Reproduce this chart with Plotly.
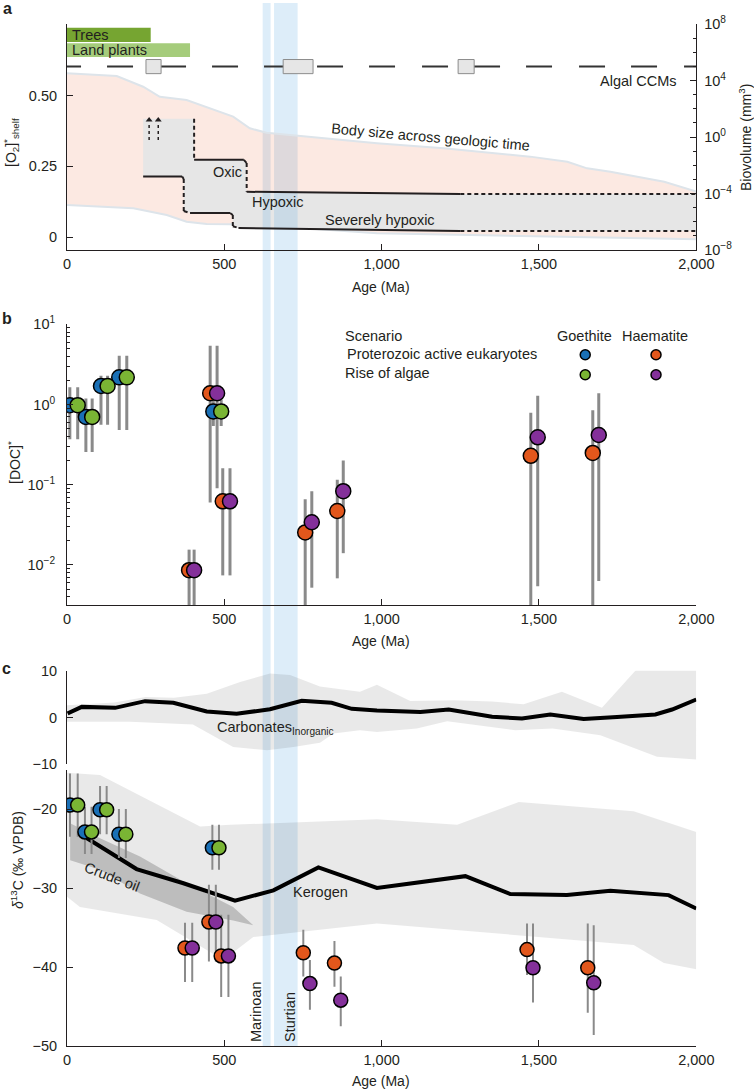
import numpy as np
import plotly.graph_objects as go

W, H = 754, 1090

# ---------------- shared data ----------------
age_ticks = [0, 500, 1000, 1500, 2000]
age_tick_text = ["0", "500", "1,000", "1,500", "2,000"]

glacial_names = ["Marinoan", "Sturtian"]
glacial_start = [622, 658]
glacial_end = [647, 733]

# ---------------- panel a data ----------------
plant_names = ["Trees", "Land plants"]
plant_end_age = [266, 391]

ccm_box_start = [251, 687, 1243]
ccm_box_end = [299, 782, 1294]

body_upper_age = [0, 158, 242, 295, 380, 528, 581, 634, 985, 1197, 1472, 1590, 1653, 1727, 1898, 2000]
body_upper_log = [4.51, 4.32, 3.56, 2.85, 2.62, 1.44, 0.62, 0.30, -0.45, -0.80, -1.39, -1.75, -2.22, -2.46, -3.17, -3.87]
body_lower_age = [0, 211, 317, 380, 444, 591, 985, 1590, 2000]
body_lower_log = [-4.81, -5.05, -5.52, -6.0, -6.16, -6.2, -6.82, -7.06, -7.24]

oxic_age = [242, 404, 404, 562, 571, 571, 1250, 2000]
oxic_o2 = [0.418, 0.418, 0.273, 0.273, 0.262, 0.160, 0.152, 0.152]
oxic_style = ["none", "dash", "solid", "dash", "dash", "solid", "dash"]

hyp_age = [242, 366, 371, 371, 391, 518, 527, 527, 545, 1250, 2000]
hyp_o2 = [0.214, 0.214, 0.205, 0.092, 0.085, 0.085, 0.078, 0.038, 0.032, 0.021, 0.021]
hyp_style = ["solid", "dash", "dash", "dash", "solid", "dash", "dash", "dash", "solid", "dash"]

arrow_age = [261, 290]
arrow_o2_from, arrow_o2_to = 0.343, 0.414

# ---------------- panel b data ----------------
doc_gp_age = [9, 60, 108, 166, 465]          # Goethite, Proterozoic active eukaryotes
doc_gp = [0.98, 0.70, 1.70, 2.18, 0.82]
doc_gp_lo = [0.37, 0.256, 0.56, 0.48, 0.54]
doc_gp_hi = [1.64, 1.19, 2.29, 4.05, 1.15]

doc_ga_age = [34, 80, 129, 190, 490]         # Goethite, Rise of algae
doc_ga = [0.98, 0.70, 1.70, 2.18, 0.82]
doc_ga_lo = [0.37, 0.256, 0.56, 0.48, 0.54]
doc_ga_hi = [1.64, 1.19, 2.29, 4.05, 1.15]

doc_hp_age = [388, 455, 495, 757, 859, 1474, 1671]   # Haematite, Proterozoic active eukaryotes
doc_hp = [0.0086, 1.38, 0.062, 0.0254, 0.047, 0.229, 0.249]
doc_hp_lo = [0.001, 0.06, 0.0074, 0.001, 0.0068, 0.001, 0.001]
doc_hp_hi = [0.0155, 5.4, 0.16, 0.066, 0.115, 0.79, 0.85]

doc_ha_age = [404, 477, 518, 778, 878, 1496, 1690]   # Haematite, Rise of algae
doc_ha = [0.0086, 1.38, 0.062, 0.034, 0.083, 0.39, 0.417]
doc_ha_lo = [0.001, 0.09, 0.0074, 0.0052, 0.014, 0.0054, 0.0063]
doc_ha_hi = [0.0155, 5.4, 0.16, 0.083, 0.20, 1.29, 1.38]

# ---------------- panel c data ----------------
carb_age = [2, 47, 153, 248, 338, 444, 539, 645, 746, 841, 905, 985, 1123, 1213, 1351, 1446, 1536, 1642, 1748, 1870, 1923, 2000]
carb_d13c = [0.86, 2.27, 2.06, 3.49, 3.13, 1.28, 0.78, 1.78, 3.56, 3.13, 1.85, 1.5, 1.2, 1.71, 0.14, -0.21, 0.64, -0.3, 0.13, 0.64, 1.71, 3.85]
carb_hi_age = [0, 150, 250, 340, 444, 550, 645, 709, 804, 931, 985, 1091, 1229, 1351, 1451, 1573, 1700, 1833, 2000]
carb_hi = [2.6, 3.2, 4.4, 4.2, 5.1, 7.6, 9.4, 9.1, 6.6, 5.5, 7.0, 3.5, 3.7, 3.4, 2.85, 5.5, 2.06, 12.0, 12.0]
carb_lo_age = [0, 200, 400, 444, 528, 636, 720, 804, 847, 931, 985, 1112, 1208, 1425, 1543, 1695, 1875, 2000]
carb_lo = [-0.9, -0.9, -1.5, -3.1, -6.3, -7.0, -6.3, -5.4, -3.4, -2.7, -3.1, -2.36, -0.8, -2.7, -2.36, -3.8, -8.4, -9.0]

ker_age = [47, 221, 370, 534, 656, 799, 985, 1266, 1409, 1589, 1727, 1912, 2000]
ker_d13c = [-23.3, -27.6, -29.4, -31.6, -30.3, -27.4, -30.0, -28.5, -30.76, -30.9, -30.34, -30.9, -32.6]
ker_hi_age = [0, 105, 423, 518, 985, 1240, 1436, 1801, 2000]
ker_hi = [-15.4, -15.7, -22.2, -22.0, -21.3, -22.0, -19.1, -20.3, -22.9]
ker_lo_age = [0, 41, 285, 497, 592, 985, 1801, 1897, 2000]
ker_lo = [-31.1, -32.4, -34.05, -39.1, -36.2, -34.5, -37.2, -39.5, -40.3]

oil_hi_age = [10, 105, 232, 380, 528, 592]
oil_hi = [-21.8, -23.7, -26.0, -29.4, -32.4, -34.7]
oil_lo_age = [592, 528, 380, 232, 105, 10]
oil_lo = [-34.7, -34.1, -33.0, -30.7, -27.7, -26.5]

d13_gp_age = [9.5, 57, 105, 165, 462]
d13_gp = [-19.5, -22.9, -20.1, -23.2, -24.9]
d13_gp_lo = [-23.5, -25.7, -23.2, -26.2, -27.7]
d13_gp_hi = [-15.5, -19.7, -17.1, -20.0, -22.0]

d13_ga_age = [34, 78, 126, 187, 483]
d13_ga = [-19.5, -22.9, -20.1, -23.2, -24.9]
d13_ga_lo = [-23.5, -25.7, -23.2, -26.2, -27.7]
d13_ga_hi = [-15.5, -19.7, -17.1, -20.0, -22.0]

d13_hp_age = [375, 451, 490, 751, 850, 1462, 1655]
d13_hp = [-37.6, -34.3, -38.6, -38.2, -39.5, -37.8, -40.1]
d13_hp_lo = [-41.9, -39.3, -43.8, -41.2, -42.5, -41.0, -45.8]
d13_hp_hi = [-34.4, -29.6, -33.4, -35.3, -36.7, -34.5, -34.5]

d13_ha_age = [398, 473, 513, 772, 870, 1481, 1674]
d13_ha = [-37.6, -34.3, -38.6, -42.1, -44.2, -40.1, -42.0]
d13_ha_lo = [-41.9, -39.3, -43.8, -45.4, -47.5, -44.5, -48.6]
d13_ha_hi = [-34.4, -29.6, -33.4, -39.1, -41.2, -34.5, -34.7]

# ---------------- styles ----------------
FONT = "Liberation Sans, Arial, Helvetica, sans-serif"
INK = "#231f20"
C_BLUE, C_GREEN, C_ORANGE, C_PURPLE = "#1a70b6", "#7ab534", "#e2571c", "#84309a"
BAND = "rgba(120,185,230,0.25)"
GREY_FILL = "rgba(0,0,0,0.085)"
ERR = "#8a8a8a"

X0, X1 = 67 / W, 696.3 / W


def py(p):
    return 1 - p / H


fig = go.Figure()

# ---------------- panel a ----------------
fig.add_trace(go.Scatter(
    x=body_upper_age + body_lower_age[::-1],
    y=list(10.0 ** np.array(body_upper_log + body_lower_log[::-1])),
    fill="toself", fillcolor="rgba(235,100,50,0.14)", mode="lines",
    line=dict(color="#dde4ea", width=2), xaxis="x", yaxis="y", hoverinfo="skip"))

fig.add_trace(go.Scatter(
    x=oxic_age + hyp_age[::-1], y=oxic_o2 + hyp_o2[::-1],
    fill="toself", fillcolor="#e6e6e6", mode="lines", line=dict(width=0),
    xaxis="x", yaxis="y2", hoverinfo="skip"))
for s, e in zip(glacial_start, glacial_end):
    xs = [s, e]
    up = list(np.interp(xs, oxic_age, oxic_o2))
    lo = list(np.interp(xs, hyp_age, hyp_o2))
    fig.add_trace(go.Scatter(x=xs + xs[::-1], y=up + lo[::-1], fill="toself", fillcolor=BAND,
                             mode="lines", line=dict(width=0), xaxis="x", yaxis="y2", hoverinfo="skip"))


def seg_traces(ages, vals, styles):
    out = {"solid": ([], []), "dash": ([], [])}
    for i, st in enumerate(styles):
        if st == "none":
            continue
        out[st][0].extend([ages[i], ages[i + 1], None])
        out[st][1].extend([vals[i], vals[i + 1], None])
    for st, (xx, yy) in out.items():
        if xx:
            fig.add_trace(go.Scatter(x=xx, y=yy, mode="lines",
                                     line=dict(color=INK, width=2, dash="solid" if st == "solid" else "4px,3px"),
                                     xaxis="x", yaxis="y2", hoverinfo="skip"))


seg_traces(oxic_age, oxic_o2, oxic_style)
seg_traces(hyp_age, hyp_o2, hyp_style)

ax_x, ax_y = [], []
for a in arrow_age:
    ax_x += [a, a, None]
    ax_y += [arrow_o2_from, arrow_o2_to - 0.012, None]
fig.add_trace(go.Scatter(x=ax_x, y=ax_y, mode="lines", line=dict(color=INK, width=1.5, dash="3px,3px"),
                         xaxis="x", yaxis="y2", hoverinfo="skip"))
fig.add_trace(go.Scatter(x=arrow_age, y=[arrow_o2_to] * len(arrow_age), mode="markers",
                         marker=dict(symbol="triangle-up", size=6, color=INK),
                         xaxis="x", yaxis="y2", hoverinfo="skip"))

CCM_Y = 0.603
BOX_HALF = 0.025
fig.add_trace(go.Scatter(x=[-38, 2000], y=[CCM_Y, CCM_Y], mode="lines",
                         line=dict(color="#333333", width=2,
                                   dash="26px,26px,26px,27px,26px,26px,26px,26px,26px,27px"),
                         xaxis="x", yaxis="y2", hoverinfo="skip"))
for s, e in zip(ccm_box_start, ccm_box_end):
    fig.add_trace(go.Scatter(x=[s, e, e, s, s], y=[CCM_Y - BOX_HALF, CCM_Y - BOX_HALF, CCM_Y + BOX_HALF, CCM_Y + BOX_HALF, CCM_Y - BOX_HALF],
                             fill="toself", fillcolor="#e6e6e6", mode="lines",
                             line=dict(color="#8c8c8c", width=1), xaxis="x", yaxis="y2", hoverinfo="skip"))

plant_rows = [(0.690, 0.740, "#76a531"), (0.637, 0.686, "#a5cc7b")]
for name, end, (lo, hi, col) in zip(plant_names, plant_end_age, plant_rows):
    fig.add_trace(go.Scatter(x=[0, end, end, 0, 0], y=[lo, lo, hi, hi, lo], fill="toself", fillcolor=col,
                             mode="lines", line=dict(width=0), xaxis="x", yaxis="y2", hoverinfo="skip"))

# ---------------- panel b ----------------
def err_segments(xs, lo, hi):
    xx, yy = [], []
    for a, l, h in zip(xs, lo, hi):
        xx += [a, a, None]
        yy += [l, h, None]
    return xx, yy


for xs, lo, hi in [(doc_gp_age, doc_gp_lo, doc_gp_hi), (doc_ga_age, doc_ga_lo, doc_ga_hi),
                   (doc_hp_age, doc_hp_lo, doc_hp_hi), (doc_ha_age, doc_ha_lo, doc_ha_hi)]:
    xx, yy = err_segments(xs, lo, hi)
    fig.add_trace(go.Scatter(x=xx, y=yy, mode="lines", line=dict(color=ERR, width=3),
                             xaxis="x2", yaxis="y3", hoverinfo="skip"))
for xs, ys, col in [(doc_gp_age, doc_gp, C_BLUE), (doc_ga_age, doc_ga, C_GREEN),
                    (doc_hp_age, doc_hp, C_ORANGE), (doc_ha_age, doc_ha, C_PURPLE)]:
    fig.add_trace(go.Scatter(x=xs, y=ys, mode="markers",
                             marker=dict(size=15, color=col, line=dict(color="black", width=1.5)),
                             xaxis="x2", yaxis="y3", hoverinfo="skip"))

LEG_X = [1647, 1872]
LEG_Y = [4.17, 2.35]
for (lx, ly, col) in [(LEG_X[0], LEG_Y[0], C_BLUE), (LEG_X[1], LEG_Y[0], C_ORANGE),
                      (LEG_X[0], LEG_Y[1], C_GREEN), (LEG_X[1], LEG_Y[1], C_PURPLE)]:
    fig.add_trace(go.Scatter(x=[lx], y=[ly], mode="markers",
                             marker=dict(size=10, color=col, line=dict(color="black", width=1.5)),
                             xaxis="x2", yaxis="y3", hoverinfo="skip", cliponaxis=False))

# ---------------- panel c ----------------
fig.add_trace(go.Scatter(x=carb_hi_age + carb_lo_age[::-1], y=carb_hi + carb_lo[::-1], fill="toself",
                         fillcolor=GREY_FILL, mode="lines", line=dict(width=0),
                         xaxis="x3", yaxis="y4", hoverinfo="skip"))
fig.add_trace(go.Scatter(x=carb_age, y=carb_d13c, mode="lines", line=dict(color="black", width=4),
                         xaxis="x3", yaxis="y4", hoverinfo="skip"))

fig.add_trace(go.Scatter(x=ker_hi_age + ker_lo_age[::-1], y=ker_hi + ker_lo[::-1], fill="toself",
                         fillcolor=GREY_FILL, mode="lines", line=dict(width=0),
                         xaxis="x4", yaxis="y5", hoverinfo="skip"))
fig.add_trace(go.Scatter(x=oil_hi_age + oil_lo_age, y=oil_hi + oil_lo, fill="toself",
                         fillcolor="rgba(0,0,0,0.19)", mode="lines", line=dict(width=0),
                         xaxis="x4", yaxis="y5", hoverinfo="skip"))
fig.add_trace(go.Scatter(x=ker_age, y=ker_d13c, mode="lines", line=dict(color="black", width=4),
                         xaxis="x4", yaxis="y5", hoverinfo="skip"))

for xs, lo, hi in [(d13_gp_age, d13_gp_lo, d13_gp_hi), (d13_ga_age, d13_ga_lo, d13_ga_hi),
                   (d13_hp_age, d13_hp_lo, d13_hp_hi), (d13_ha_age, d13_ha_lo, d13_ha_hi)]:
    xx, yy = err_segments(xs, lo, hi)
    fig.add_trace(go.Scatter(x=xx, y=yy, mode="lines", line=dict(color=ERR, width=2),
                             xaxis="x4", yaxis="y5", hoverinfo="skip"))
for xs, ys, col in [(d13_gp_age, d13_gp, C_BLUE), (d13_ga_age, d13_ga, C_GREEN),
                    (d13_hp_age, d13_hp, C_ORANGE), (d13_ha_age, d13_ha, C_PURPLE)]:
    fig.add_trace(go.Scatter(x=xs, y=ys, mode="markers",
                             marker=dict(size=14, color=col, line=dict(color="black", width=1.5)),
                             xaxis="x4", yaxis="y5", hoverinfo="skip"))

# ---------------- layout ----------------
axis_base = dict(showline=True, linecolor=INK, linewidth=1, ticks="inside", ticklen=6, tickwidth=1,
                 tickcolor=INK, showgrid=False, zeroline=False, automargin=False,
                 tickfont=dict(size=14.5, color=INK, family=FONT))


def xax(anchor):
    return dict(axis_base, domain=[X0, X1], range=[0, 2000], anchor=anchor,
                tickmode="array", tickvals=age_ticks, ticktext=age_tick_text, ticklabelstandoff=1)


def sup(n):
    return "10<sup>" + (str(n) if n >= 0 else "\u2212" + str(-n)) + "</sup>"


layout = dict(
    width=W, height=H, margin=dict(l=0, r=0, t=0, b=0, pad=0, autoexpand=False), autosize=False,
    paper_bgcolor="white", plot_bgcolor="rgba(0,0,0,0)", showlegend=False,
    font=dict(family=FONT, size=14, color=INK),
    xaxis=xax("y"),
    yaxis=dict(axis_base, domain=[py(250), py(24)], type="log", range=[-8, 8], side="right",
               anchor="x", tickmode="array", tickvals=[10.0 ** k for k in (-8, -4, 0, 4, 8)],
               ticktext=[sup(k) for k in (-8, -4, 0, 4, 8)], ticklabelstandoff=4,
               minor=dict(ticks="inside", ticklen=3, tickcolor=INK,
                          tickvals=[10.0 ** k for k in range(-8, 9) if k % 4 != 0])),
    yaxis2=dict(axis_base, domain=[py(250), py(24)], range=[-0.046, 0.7537], overlaying="y", side="left",
                anchor="x", tickmode="array", tickvals=[0, 0.25, 0.5], ticktext=["0", "0.25", "0.50"],
                ticklabelstandoff=6),
    xaxis2=xax("y3"),
    yaxis3=dict(axis_base, domain=[py(605), py(324.3)], type="log", range=[-2.5, 1], anchor="x2",
                tickmode="array", tickvals=[0.01, 0.1, 1, 10], ticktext=[sup(k) for k in (-2, -1, 0, 1)],
                ticklabelstandoff=8,
                minor=dict(ticks="inside", ticklen=3, tickcolor=INK,
                           tickvals=[m * 10.0 ** k for k in (-3, -2, -1, 0) for m in range(2, 10)])),
    xaxis3=dict(domain=[X0, X1], range=[0, 2000], anchor="y4", visible=False),
    yaxis4=dict(axis_base, domain=[py(764.3), py(670.7)], range=[-10, 10], anchor="x3",
                tickmode="array", tickvals=[-10, 0, 10], ticktext=["\u221210", "0", "10"], ticklabelstandoff=6),
    xaxis4=xax("y5"),
    yaxis5=dict(axis_base, domain=[py(1046), py(769.5)], range=[-50, -15], anchor="x4",
                tickmode="array", tickvals=[-50, -40, -30, -20, -15],
                ticktext=["\u221250", "\u221240", "\u221230", "\u221220", ""], ticklabelstandoff=6),
)

shapes = []
for s, e in zip(glacial_start, glacial_end):
    shapes.append(dict(type="rect", xref="x", yref="paper", x0=s, x1=e, y0=py(1046), y1=py(3),
                       fillcolor=BAND, line=dict(width=0), layer="below"))
layout["shapes"] = shapes

anns = []


def ann(text, x, y, xanchor="center", size=14.5, angle=0, bold=False, yanchor="middle"):
    anns.append(dict(text=("<b>%s</b>" % text) if bold else text, x=x / W, y=py(y), xref="paper", yref="paper",
                     showarrow=False, xanchor=xanchor, yanchor=yanchor, textangle=angle,
                     font=dict(size=size, color=INK, family=FONT)))


ann("a", 7, 8, size=16, bold=True)
ann("b", 7, 318, size=16, bold=True)
ann("c", 6, 668, size=16, bold=True)

ann("[O<sub>2</sub>]<sup>*</sup><sub>shelf</sub>", 11, 143, angle=-90, size=14)
ann("Biovolume (mm<sup>3</sup>)", 745, 138, angle=-90, size=14)
ann("Age (Ma)", 381, 287, size=14)
ann("[DOC]<sup>*</sup>", 14, 463, angle=-90, size=14)
ann("Age (Ma)", 381, 641, size=14)
ann("<i>δ</i><sup>13</sup>C (‰ VPDB)", 17, 860, angle=-90, size=14)
ann("Age (Ma)", 381, 1081, size=14)

ann(plant_names[0], 70, 35, xanchor="left")
ann(plant_names[1], 70, 50, xanchor="left")
ann("Algal CCMs", 638, 81)
ann("Body size across geologic time", 430, 137, angle=5)
ann("Oxic", 227, 172)
ann("Hypoxic", 278, 202)
ann("Severely hypoxic", 380, 220)

ann("Scenario", 343, 336, xanchor="left")
ann("Proterozoic active eukaryotes", 345, 354, xanchor="left")
ann("Rise of algae", 343, 373, xanchor="left")
ann("Goethite", 584, 336)
ann("Haematite", 655, 336)

ann("Carbonates<sub>Inorganic</sub>", 215, 728, xanchor="left")
ann("Kerogen", 320, 892)
ann("Crude oil", 112, 877, angle=21)
ann(glacial_names[0], 256, 1012, angle=-90)
ann(glacial_names[1], 290, 1017, angle=-90)

layout["annotations"] = anns
fig.update_layout(**layout)
fig.write_html("out.html", config={"displayModeBar": False},
               post_script="document.body.style.margin='0px';")
